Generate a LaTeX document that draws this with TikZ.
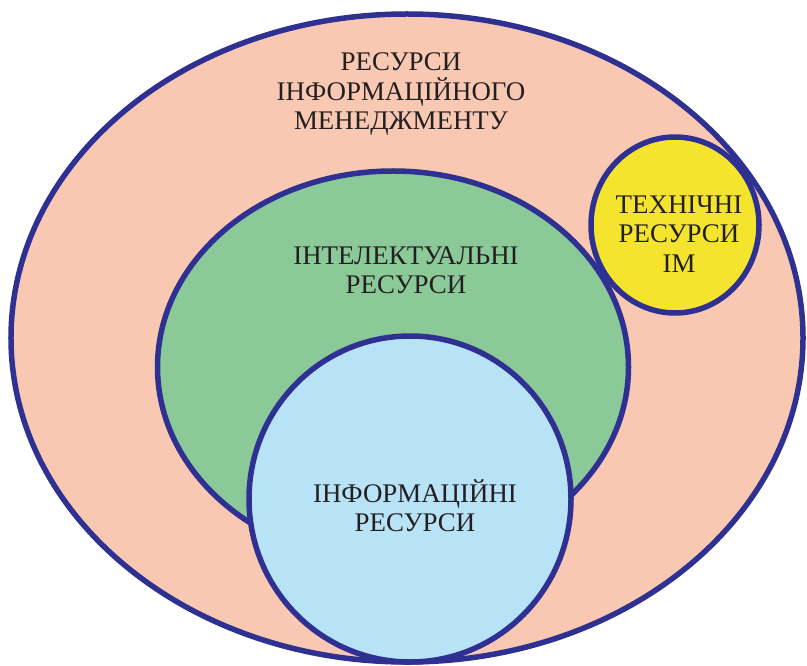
\documentclass[tikz,border=0pt]{standalone}
\usepackage{fontspec}
\setmainfont{Liberation Serif}
\usetikzlibrary{shapes.geometric}
\definecolor{rim}{RGB}{46,49,146}
\definecolor{peach}{RGB}{249,200,178}
\definecolor{leaf}{RGB}{139,201,152}
\definecolor{sky}{RGB}{184,226,246}
\definecolor{lemon}{RGB}{245,228,45}
\definecolor{ink}{RGB}{35,31,32}
\tikzset{
  zone/.style={ellipse, draw=rim, line width=5.5bp, inner sep=0pt, outer sep=0pt},
  caption/.style={align=center, text=ink, inner sep=0pt,
    font=\fontsize{27}{29.5}\selectfont},
}
\begin{document}
\begin{tikzpicture}[x=1bp, y=-1bp]
  \useasboundingbox (0,0) rectangle (807,666);
  \clip (0,0) rectangle (807,666);
  % nested resource areas
  \node[zone, fill=peach, minimum width=792bp, minimum height=648bp] (im) at (407,338) {};
  \node[zone, fill=lemon, minimum width=168bp, minimum height=176bp] (tech) at (675,225) {};
  \node[zone, fill=leaf, minimum width=471bp, minimum height=392bp] (intel) at (393,367) {};
  \node[zone, fill=sky, minimum width=322bp, minimum height=326bp] (info) at (410,499) {};
  % labels
  \node[caption] (imlbl) at (401,94) {РЕСУРСИ\\ІНФОРМАЦІЙНОГО\\МЕНЕДЖМЕНТУ};
  \node[caption] (intellbl) at (406,270) {ІНТЕЛЕКТУАЛЬНІ\\РЕСУРСИ};
  \node[caption] (infolbl) at (415,506) {ІНФОРМАЦІЙНІ\\РЕСУРСИ};
  \node[caption] (techlbl) at (679,234) {ТЕХНІЧНІ\\РЕСУРСИ\\ІМ};
\end{tikzpicture}
\end{document}
